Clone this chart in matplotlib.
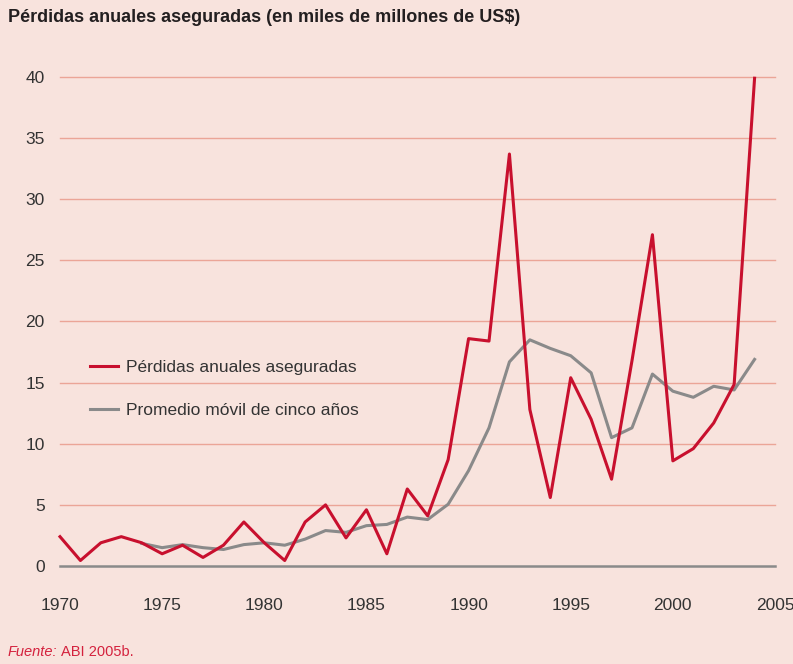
import matplotlib
matplotlib.use("Agg")
import matplotlib.pyplot as plt

# Data (miles de millones de US$)
years = list(range(1970, 2005))
perdidas = [2.4, 0.45, 1.9, 2.4, 1.9, 1.0, 1.7, 0.7, 1.7, 3.6,
            1.9, 0.45, 3.6, 5.0, 2.3, 4.6, 1.0, 6.3, 4.1, 8.7,
            18.6, 18.4, 33.7, 12.8, 5.6, 15.4, 12.0, 7.1, 16.8, 27.1,
            8.6, 9.6, 11.7, 14.85, 39.9]
media_years = list(range(1974, 2005))
media_movil = [1.85, 1.5, 1.75, 1.5, 1.35, 1.75, 1.9, 1.7, 2.2, 2.9,
               2.75, 3.3, 3.4, 4.0, 3.8, 5.05, 7.8, 11.3, 16.7, 18.5,
               17.8, 17.2, 15.8, 10.5, 11.3, 15.7, 14.3, 13.8, 14.7, 14.4,
               16.9]
xticks = [1970, 1975, 1980, 1985, 1990, 1995, 2000, 2005]
yticks = [0, 5, 10, 15, 20, 25, 30, 35, 40]

bg = "#F8E3DD"
red = "#C8102E"
gray = "#8A8A8A"
grid_col = "#EBA597"
text_col = "#333333"

plt.rcParams["font.family"] = ["Liberation Sans", "DejaVu Sans"]

W, H = 793, 664
fig = plt.figure(figsize=(W / 100, H / 100), dpi=100, facecolor=bg)
x0, x1 = 60, 775
y0, y1 = 566, 77
ax = fig.add_axes([x0 / W, (H - y0) / H, (x1 - x0) / W, (y0 - y1) / H])
ax.set_facecolor(bg)
ax.set_xlim(1970, 2005)
ax.set_ylim(0, 40)

for v in yticks[1:]:
    ax.axhline(v, color=grid_col, lw=1.0, zorder=1, clip_on=False)
ax.axhline(0, color=gray, lw=1.8, zorder=2, clip_on=False)

ax.plot(years, perdidas, color=red, lw=2.2, zorder=4, clip_on=False,
        label="Pérdidas anuales aseguradas")
ax.plot(media_years, media_movil, color=gray, lw=2.2, zorder=3, clip_on=False,
        label="Promedio móvil de cinco años")

for s in ax.spines.values():
    s.set_visible(False)
ax.tick_params(length=0, colors=text_col, labelsize=12.5)
ax.set_xticks(xticks)
ax.set_yticks(yticks)
ax.tick_params(axis="y", pad=11)
ax.tick_params(axis="x", pad=23)

leg = fig.legend(loc="upper left", bbox_to_anchor=(90 / W, 1 - 360 / H),
                 bbox_transform=fig.transFigure, frameon=False,
                 fontsize=12.5, handlelength=1.6, handletextpad=0.5,
                 labelspacing=1.6, borderpad=0, borderaxespad=0,
                 labelcolor=text_col)

fig.text(8 / W, 1 - 18 / H, "Pérdidas anuales aseguradas (en miles de millones de US$)",
         fontsize=13, fontweight="bold", color="#231F20", va="center", ha="left")
t1 = fig.text(8 / W, 1 - 652 / H, "Fuente:", fontsize=10.5, style="italic",
              color="#D4213D", va="center", ha="left")
fig.canvas.draw()
bb = t1.get_window_extent()
fig.text((bb.x1 + 3) / W, 1 - 652 / H, "ABI 2005b.", fontsize=10.5,
         color="#D4213D", va="center", ha="left")

fig.savefig("out.png", dpi=100, facecolor=bg)
